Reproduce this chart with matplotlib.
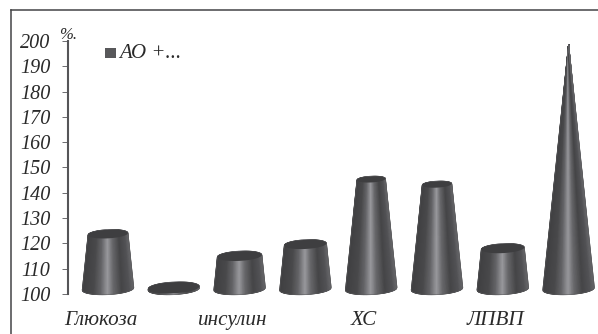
import numpy as np
import matplotlib
matplotlib.use("Agg")
import matplotlib.pyplot as plt
from matplotlib.colors import LinearSegmentedColormap
from matplotlib.lines import Line2D
from matplotlib.patches import Polygon, Rectangle
from matplotlib.transforms import ScaledTranslation

# ---- data -------------------------------------------------------------
category_positions = [0, 2, 4, 6]
category_labels = ["Глюкоза", "инсулин", "ХС", "ЛПВП"]
values = [123.7, 102.5, 115, 119.6, 145.3, 143.3, 118, 198.5]
y_ticks = list(range(100, 201, 10))
legend_label = "АО +..."
unit_label = "%."

# ---- layout -----------------------------------------------------------
W, H = 598, 334
BASE_VALUE = 102.0
APEX_VALUE = 198.5
BASE_HALF_WIDTH = 0.39
BASE_MINOR = 2.2
TILT = 1.3  # value units of rise per category unit

plt.rcParams["font.family"] = ["Liberation Serif", "DejaVu Serif"]
plt.rcParams["font.style"] = "italic"

fig = plt.figure(figsize=(W / 100, H / 100), dpi=100, facecolor="white")
ax = fig.add_axes([68 / W, (H - 294) / H, (W - 68) / W, (294 - 41) / H])
ax.patch.set_alpha(0)

for s in ("top", "right", "bottom"):
    ax.spines[s].set_visible(False)
ax.spines["left"].set_color("#555558")
ax.spines["left"].set_linewidth(1.5)
ax.set_yticks(y_ticks)
ax.tick_params(axis="y", length=4.5, width=0.6, color="#555558", labelsize=14.5, pad=8,
               labelcolor="#2a2a2a")
ax.set_xticks(category_positions)
ax.set_xticklabels(category_labels, fontsize=15.2, color="#2a2a2a")
ax.tick_params(axis="x", length=0, pad=12)
shift = ScaledTranslation(-7 / 100, 0, fig.dpi_scale_trans)
for lab in ax.get_xticklabels():
    lab.set_transform(lab.get_transform() + shift)

cone_cmap = LinearSegmentedColormap.from_list(
    "cone",
    [(0.00, "#404042"), (0.22, "#49494b"), (0.36, "#646467"), (0.50, "#9a9a9e"),
     (0.62, "#68686b"), (0.78, "#464648"), (0.92, "#525255"), (1.00, "#666669")],
)

u = np.linspace(-1, 1, 121)
t = np.linspace(0, 1, 2)[:, None]
colour = (u + 1) / 2
bulge = np.sqrt(np.clip(1 - u ** 2, 0, 1))

for i, v in enumerate(values):
    frac = max((APEX_VALUE - v) / (APEX_VALUE - BASE_VALUE), 0.0)
    a_top = BASE_HALF_WIDTH * frac
    b_top = BASE_MINOR * frac
    x_low = i + BASE_HALF_WIDTH * u
    x_high = i + a_top * u
    y_low = BASE_VALUE - BASE_MINOR * bulge + TILT * BASE_HALF_WIDTH * u
    y_high = v + b_top * bulge + TILT * a_top * u
    X = x_low + t * (x_high - x_low)
    Y = y_low + t * (y_high - y_low)
    ax.pcolormesh(X, Y, np.tile(colour, (2, 1)), cmap=cone_cmap, vmin=0, vmax=1,
                  shading="gouraud", zorder=2, clip_on=False)
    # soft outline hides the jagged mesh edge
    outline = np.column_stack([np.r_[x_low, x_high[::-1]], np.r_[y_low, y_high[::-1]]])
    ax.add_patch(Polygon(outline, closed=True, fc="none", ec="#5a5a5c", lw=0.5,
                         alpha=0.7, zorder=2.5, clip_on=False))
    # top surface
    if a_top > 0.01:
        theta = np.linspace(0, 2 * np.pi, 80)
        ex = a_top * np.cos(theta)
        ey = b_top * np.sin(theta) + TILT * ex
        ax.add_patch(Polygon(np.column_stack([i + ex, v + ey]), closed=True,
                             fc="#3e3e40", ec="none", zorder=3))

ax.set_xlim((68 - 108) / 65.8, (W - 108) / 65.8)
ax.set_ylim(100, 200)

# unit, legend and frame
fig.text(68 / W, 1 - 35 / H, unit_label, fontsize=12, color="#2a2a2a", ha="center", va="center")
fig.add_artist(Rectangle((105 / W, 1 - 58 / H), 10.5 / W, 10 / H, transform=fig.transFigure,
                         fc="#58585a", ec="none"))
fig.text(119.5 / W, 1 - 54 / H, legend_label, fontsize=15, color="#2a2a2a", ha="left", va="center")
fig.add_artist(Line2D([10.5 / W, 10.5 / W], [0, 1 - 9.5 / H], color="#444446", lw=1.1))
fig.add_artist(Line2D([10.5 / W, 1], [1 - 9.5 / H, 1 - 9.5 / H], color="#444446", lw=1.1))

fig.savefig("out.png", dpi=100, facecolor="white")
